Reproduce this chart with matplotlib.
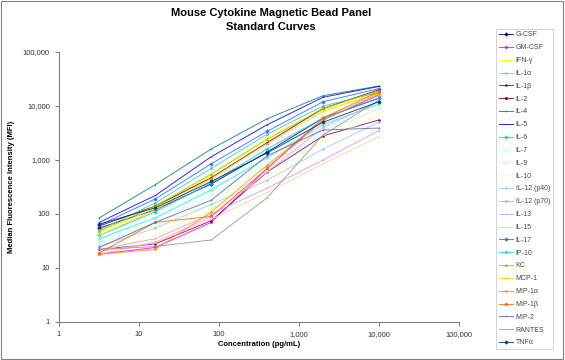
import matplotlib
matplotlib.use('Agg')
import matplotlib.pyplot as plt
from matplotlib.ticker import FuncFormatter, NullLocator

plt.rcParams.update({
    'font.family': ['Liberation Sans', 'DejaVu Sans'],
    'font.size': 6,
})

# concentrations (pg/mL)
conc = [3.2, 16, 80, 400, 2000, 10000]

analytes = ["G-CSF", "GM-CSF", "IFN-γ", "IL-1α", "IL-1β", "IL-2", "IL-4", "IL-5",
            "IL-6", "IL-7", "IL-9", "IL-10", "IL-12 (p40)", "IL-12 (p70)", "IL-13",
            "IL-15", "IL-17", "IP-10", "KC", "MCP-1", "MIP-1α", "MIP-1β", "MIP-2",
            "RANTES", "TNFα"]

# median fluorescence intensity per analyte
g_csf = [55, 120, 360, 1400, 6000, 14000]
gm_csf = [18, 24, 70, 700, 5500, 16000]
ifn_g = [45, 130, 520, 2600, 8500, 17000]
il_1a = [35, 85, 280, 1100, 4500, 11000]
il_1b = [22, 28, 75, 600, 2800, 5500]
il_2 = [60, 140, 470, 2100, 9000, 20000]
il_4 = [85, 350, 1600, 5800, 15500, 23500]
il_5 = [70, 220, 1150, 4500, 14500, 23000]
il_6 = [40, 110, 380, 1600, 6000, 14000]
il_7 = [30, 70, 220, 900, 3500, 9000]
il_9 = [28, 60, 160, 800, 3000, 9000]
il_10 = [20, 40, 120, 500, 2200, 7000]
il_12p40 = [25, 55, 150, 420, 1600, 5000]
il_12p70 = [18, 30, 90, 600, 4000, 12000]
il_13 = [22, 35, 100, 300, 1000, 3500]
il_15 = [20, 30, 80, 250, 850, 2700]
il_17 = [62, 190, 850, 3400, 12000, 21000]
ip_10 = [50, 160, 700, 3000, 10000, 18000]
kc = [48, 140, 550, 2400, 9000, 19000]
mcp_1 = [40, 120, 450, 2000, 8000, 17500]
mip_1a = [18, 22, 110, 800, 5500, 17000]
mip_1b = [19, 70, 90, 700, 6000, 18500]
mip_2 = [24, 70, 180, 1200, 3600, 3900]
rantes = [22, 25, 33, 200, 2900, 13000]
tnfa = [65, 130, 400, 1350, 5000, 12000]

series = [g_csf, gm_csf, ifn_g, il_1a, il_1b, il_2, il_4, il_5, il_6, il_7,
          il_9, il_10, il_12p40, il_12p70, il_13, il_15, il_17, ip_10, kc,
          mcp_1, mip_1a, mip_1b, mip_2, rantes, tnfa]

# Excel-style default series palette
colors = ["#000080", "#FF00FF", "#FFFF00", "#00FFFF", "#800080", "#800000",
          "#008080", "#0000FF", "#00CCFF", "#CCFFFF", "#CCFFCC", "#FFFF99",
          "#99CCFF", "#FF99CC", "#CC99FF", "#FFCC99", "#3366FF", "#33CCCC",
          "#99CC00", "#FFCC00", "#FF9900", "#FF6600", "#666699", "#969696",
          "#003366"]
markers = ["D", "s", "^", "x", "*", "o", "+", "_", "D", "s", "^", "x", "*",
           "o", "+", "_", "D", "s", "^", "x", "*", "o", "+", "_", "D"]

fig = plt.figure(figsize=(5.65, 3.6), dpi=100)
fig.patch.set_facecolor('white')
ax = fig.add_axes([0.1044, 0.1056, 0.708, 0.75])

for name, vals, c, m in zip(analytes, series, colors, markers):
    ax.plot(conc, vals, color=c, marker=m, markersize=1.8, linewidth=0.7,
            markeredgewidth=0.5, alpha=0.85, label=name)

ax.set_xscale('log')
ax.set_yscale('log')
ax.set_xlim(1, 100000)
ax.set_ylim(1, 100000)
fmt = FuncFormatter(lambda v, p: f"{v:,.0f}")
ax.xaxis.set_major_formatter(fmt)
ax.yaxis.set_major_formatter(fmt)
ax.xaxis.set_minor_locator(NullLocator())
ax.yaxis.set_minor_locator(NullLocator())
ax.set_xticks([1, 10, 100, 1000, 10000, 100000])
ax.set_yticks([1, 10, 100, 1000, 10000, 100000])

for s in ['top', 'right']:
    ax.spines[s].set_visible(False)
for s in ['left', 'bottom']:
    ax.spines[s].set_color('#808080')
    ax.spines[s].set_linewidth(0.8)
ax.tick_params(colors='#808080', labelcolor='#333333', length=3, width=0.8,
               labelsize=5.5)

ax.set_xlabel("Concentration (pg/mL)", fontsize=5.5, fontweight='bold', labelpad=2)
ax.set_ylabel("Median Fluorescence Intensity (MFI)", fontsize=5.5,
              fontweight='bold', labelpad=6)

fig.text(0.48, 0.978, "Mouse Cytokine Magnetic Bead Panel\nStandard Curves",
         ha='center', va='top', fontsize=8, fontweight='bold', linespacing=1.45)

leg = fig.legend(loc='upper left', bbox_to_anchor=(0.872, 0.93), fontsize=5,
                 frameon=True, handlelength=2.0, handletextpad=0.4,
                 labelspacing=0.84, borderpad=0.4, fancybox=False)
leg.get_frame().set_edgecolor('#C0C0C0')
leg.get_frame().set_linewidth(0.6)
for t in leg.get_texts():
    t.set_color('#444444')

# chart-area border
fig.patches.append(plt.Rectangle((0.002, 0.003), 0.995, 0.993, transform=fig.transFigure,
                                 fill=False, edgecolor='#808080', linewidth=0.8))

fig.savefig('out.png', dpi=100)
